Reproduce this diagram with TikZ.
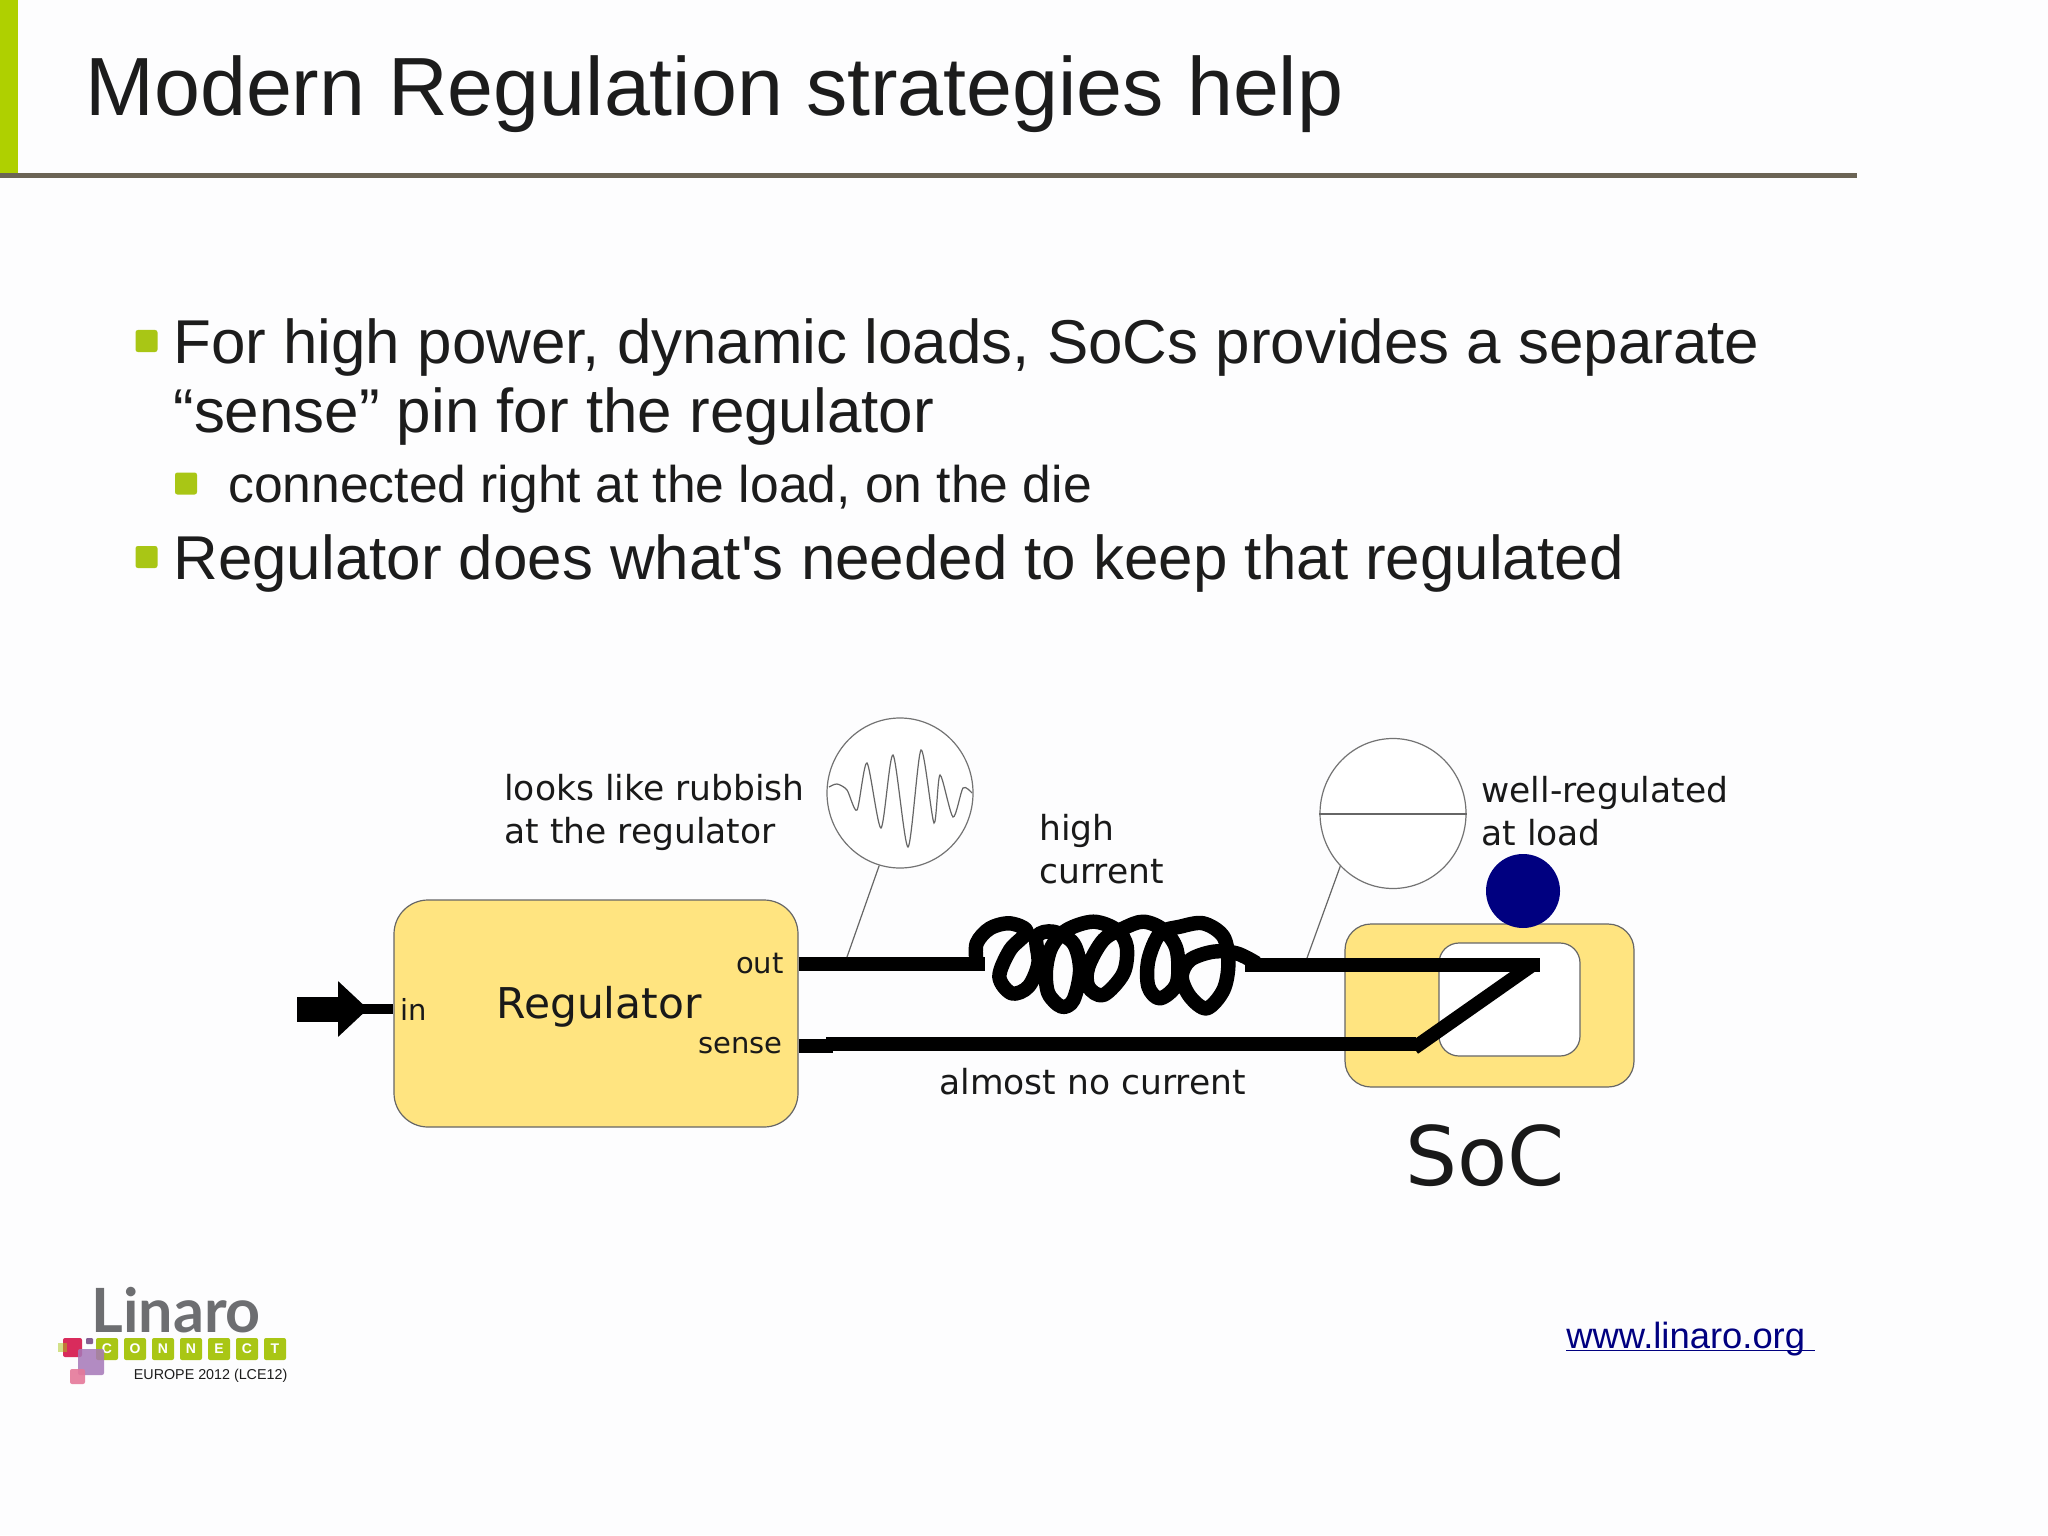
\documentclass[tikz,border=0pt]{standalone}
\usepackage{fontspec}
\setmainfont{Liberation Sans}
\newfontfamily\djv{DejaVu Sans}
\newfontfamily\lato{Lato}
\usepackage{xcolor}
\usetikzlibrary{positioning,shapes.geometric,arrows.meta}
\definecolor{pagebg}{HTML}{FDFDFE}
\definecolor{barlime}{HTML}{AFD000}
\definecolor{bulletlime}{HTML}{A9C615}
\definecolor{rulegrey}{HTML}{6B6455}
\definecolor{inkdark}{HTML}{1C1C1C}
\definecolor{boxyellow}{HTML}{FFE480}
\definecolor{linknavy}{HTML}{000080}
\definecolor{logogrey}{HTML}{6D6E71}
\definecolor{logocrimson}{HTML}{D92B5C}
\definecolor{logopurple}{HTML}{A678B8}
\definecolor{logopink}{HTML}{E5789A}

\begin{document}
\begin{tikzpicture}[
    x=0.5pt, y=-0.5pt,
    slidetext/.style={inner sep=0pt, anchor=base west, text=inkdark, align=left},
    titletext/.style={slidetext, font=\fontsize{41.3}{46}\selectfont},
    bigtext/.style={slidetext, font=\fontsize{30.95}{34.5}\selectfont},
    subtext/.style={slidetext, font=\fontsize{25.8}{28}\selectfont},
    bullet/.style={rectangle, rounded corners=1.2pt, fill=bulletlime, minimum size=11pt, inner sep=0pt},
    lbl/.style={inner sep=0pt, anchor=base west, text=black!90, align=left, font=\djv\fontsize{17.25}{21.3}\selectfont},
    pinlbl/.style={inner sep=0pt, text=black!90, font=\djv\fontsize{14.5}{17}\selectfont},
    chip/.style={rectangle, draw=black!60, line width=0.6pt, fill=boxyellow},
    scopeview/.style={ellipse, draw=black!55, line width=0.6pt, fill=white, minimum width=73pt, minimum height=75pt, inner sep=0pt},
    lead/.style={draw=black!60, line width=0.6pt},
    wire/.style={draw=black, line width=7pt},
    tile/.style={rectangle, rounded corners=1pt, fill=bulletlime, minimum size=11pt, inner sep=0pt, text=white, font=\fontsize{7}{8}\selectfont\bfseries}
]
\useasboundingbox (0,0) rectangle (2048,1535);
\fill[pagebg] (0,0) rectangle (2048,1535);

% Header
\fill[barlime] (0,0) rectangle (18,174);
\fill[rulegrey] (0,173.5) rectangle (1857,178.5);
\node[titletext] (title) at (85,115.5) {Modern Regulation strategies help};

% Bullets
\node[bullet] (dot1) at (146.5,341) {};
\node[bullet] (dot2) at (186,483.5) {};
\node[bullet] (dot3) at (146.5,557) {};
\node[bigtext] (b1) at (173,432) {For high power, dynamic loads, SoCs provides a separate\\``sense'' pin for the regulator};
\node[subtext] (b2) at (228,502) {connected right at the load, on the die};
\node[bigtext] (b3) at (173,579) {Regulator does what\textquotesingle s needed to keep that regulated};

% Boxes
\node[chip, rounded corners=17pt, minimum width=202pt, minimum height=113.5pt] (reg) at (596,1013.5) {};
\node[chip, rounded corners=13pt, minimum width=144.5pt, minimum height=81.5pt] (soc) at (1489.5,1005.5) {};
\node[chip, fill=white, rounded corners=10pt, minimum width=70.5pt, minimum height=56.5pt] (die) at (1509.5,999.5) {};
\node[circle, fill=linknavy, minimum size=37pt, inner sep=0pt] (loadpt) at (1523,891) {};

% Labels
\node[inner sep=0pt, anchor=base west, text=black!90, font=\djv\fontsize{21.2}{24}\selectfont] (reglbl) at (496,1018) {Regulator};
\node[pinlbl, anchor=base west] (inlbl) at (400,1020) {in};
\node[pinlbl, anchor=base east] (outlbl) at (784,973) {out};
\node[pinlbl, anchor=base east] (senselbl) at (783,1053) {sense};
\node[lbl] (rubbish) at (504,843) {looks like rubbish\\at the regulator};
\node[lbl] (highcur) at (1039,883) {high\\current};
\node[lbl] (wellreg) at (1481,845) {well-regulated\\at load};
\node[lbl] (nocur) at (939,1094) {almost no current};
\node[inner sep=0pt, anchor=base west, text=black!90, font=\djv\fontsize{41}{44}\selectfont] (soclbl) at (1405,1185) {SoC};

% Scope views
\node[scopeview] (noisy) at (900,793) {};
\node[scopeview] (clean) at (1393,813.5) {};
\draw[black!60, line width=0.6pt] plot[smooth, tension=0.45] coordinates {(829,787) (837,784) (847,790) (857,810) (867,763) (881,828) (893,755) (908,847) (921,750) (934,823) (940,775) (953,817) (963,788) (972,793)};
\draw[black!60, line width=1pt] (clean.west) -- (clean.east);

% Wires
\coordinate (intail) at (297,1009);
\coordinate (intip) at (368,1009);
\coordinate (inneck) at (350,1009);
\coordinate (coilin) at (985,964);
\coordinate (coilout) at (1245,964.5);
\coordinate (dieend) at (1540,964.5);
\coordinate (diecorner) at (1533,964.5);
\coordinate (senseend) at (1416,1043.5);
\coordinate (sensekink) at (1414,1048);
\coordinate (sensestep) at (833,1045.5);
\coordinate (senserest) at (826,1043.5);
\coordinate (noisytap) at (847,957);
\coordinate (cleantap) at (1307,958);

\draw[line width=12.5pt, -{Triangle[length=15pt,width=27pt]}] (intail) -- (intip);
\draw[wire, line width=5pt] (inneck) -- (reg.west |- inneck);
\draw[wire] (reg.east |- coilin) -- (coilin);
\draw[wire] (coilout) -- (dieend);
\draw[wire] (reg.east |- sensestep) -- (sensestep);
\draw[wire] (senserest) -- (senseend);
\draw[wire] (sensekink) -- (diecorner);
\begin{scope}[shift={(960,900)}, x=0.1667pt, y=-0.1667pt]
\draw[line width=7.2pt, line join=round] plot[smooth, tension=0.55] coordinates {(50,190) (50,130) (90,85) (150,70) (200,95) (150,150) (118,230) (155,280) (205,260) (235,190) (230,110) (280,95) (340,130) (360,210) (340,300) (305,320) (265,280) (258,210) (275,140) (320,90) (400,65) (470,90) (500,140) (490,220) (430,285) (385,260) (385,200) (430,120) (490,85) (550,65) (610,90) (650,150) (650,250) (600,295) (565,260) (565,180) (600,100) (660,80) (730,70) (790,110) (805,190) (790,270) (740,325) (690,290) (665,230) (690,180) (760,155) (830,160) (890,190)};
\end{scope}
\draw[lead] (noisy.254) -- (noisytap);
\draw[lead] (clean.225) -- (cleantap);

% Logo
\node[inner sep=0pt, anchor=base west, text=logogrey, font=\lato\bfseries\fontsize{30.5}{34}\selectfont] (linaro) at (91,1332) {Linaro};
\foreach \ltr [count=\i from 0] in {C,O,N,N,E,C,T}
  \node[tile] (tile\i) at (107+28*\i,1349) {\ltr};
\fill[logocrimson, rounded corners=1pt] (63,1338) rectangle (82,1357);
\fill[bulletlime, opacity=0.5] (58,1343) rectangle (67,1352);
\fill[logopurple!80!black, rounded corners=0.5pt] (86,1338) rectangle (93,1344);
\fill[logopurple, opacity=0.85, rounded corners=1pt] (78,1349) rectangle (104,1375);
\fill[logopink, opacity=0.9, rounded corners=1pt] (70,1369) rectangle (85,1384);
\node[inner sep=0pt, anchor=base west, text=inkdark, font=\fontsize{7.15}{8}\selectfont] (event) at (133.5,1379) {EUROPE 2012 (LCE12)};

% Link
\node[inner sep=0pt, anchor=base west, text=linknavy, font=\fontsize{18.2}{20}\selectfont] (link) at (1566,1348) {\underline{\smash{www.linaro.org\ }}};

\end{tikzpicture}
\end{document}
